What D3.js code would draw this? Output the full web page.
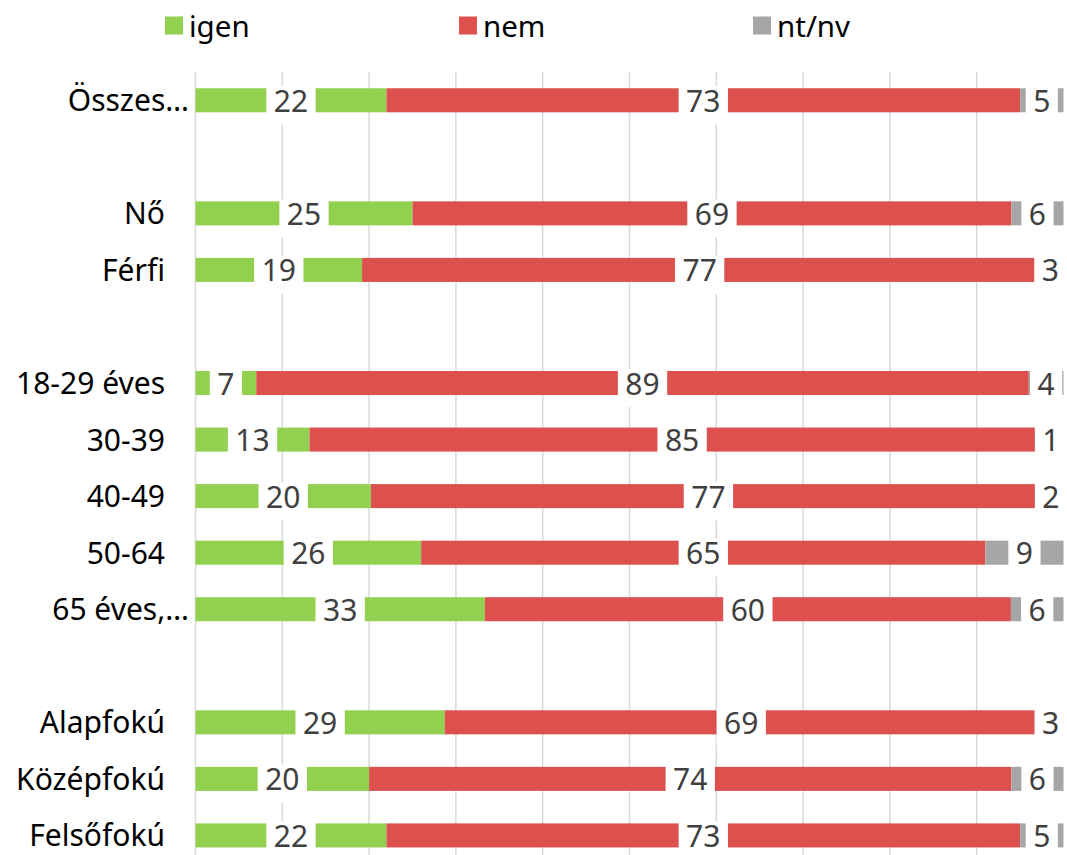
<!DOCTYPE html>
<html>
<head>
<meta charset="utf-8">
<script src="https://cdn.jsdelivr.net/npm/d3@7"></script>
<style>
  html, body { margin: 0; padding: 0; background: #fff; }
  svg { display: block; font-family: "Noto Sans", "Open Sans", sans-serif; }
</style>
</head>
<body>
<svg id="chart" width="1067" height="855"></svg>
<script>
// Row labels (empty strings are spacer rows between groups)
const categories = ["Összes…", "", "Nő", "Férfi", "", "18-29 éves", "30-39", "40-49", "50-64", "65 éves,…", "", "Alapfokú", "Középfokú", "Felsőfokú"];
const seriesNames = ["igen", "nem", "nt/nv"];
const igen = [22, null, 25, 19, null, 7, 13, 20, 26, 33, null, 29, 20, 22];
const nem  = [73, null, 69, 77, null, 89, 85, 77, 65, 60, null, 69, 74, 73];
const ntnv = [5,  null, 6,  3,  null, 4,  1,  2,  9,  6,  null, 3,  6,  5];
const colors = ["#92d050", "#dc504d", "#a6a6a6"];
const gridTicks = [0, 0.1, 0.2, 0.3, 0.4, 0.5, 0.6, 0.7, 0.8, 0.9];

const svg = d3.select("#chart");
const W = 1067;

const x = d3.scaleLinear().domain([0, 1]).range([195.5, 1063.5]);
const y = d3.scaleBand()
  .domain(d3.range(categories.length))
  .range([72, 72 + 56.55 * categories.length])
  .paddingInner(0.575)
  .paddingOuter(0.2875);

// Vertical gridlines
svg.append("g").selectAll("line")
  .data(gridTicks)
  .join("line")
  .attr("x1", d => x(d)).attr("x2", d => x(d))
  .attr("y1", 72).attr("y2", 870)
  .attr("stroke", "#d9d9d9")
  .attr("stroke-width", 1.5);

// Build stacked rows (normalised to each row's total)
const rows = categories.map((c, i) => {
  if (igen[i] == null) return null;
  const vals = [igen[i], nem[i], ntnv[i]];
  const total = d3.sum(vals);
  let acc = 0;
  return vals.map((v, k) => {
    const s = { row: i, k, v, x0: acc / total, x1: (acc + v) / total };
    acc += v;
    return s;
  });
}).filter(r => r);

const segs = rows.flat();

// Bars
svg.append("g").selectAll("rect")
  .data(segs)
  .join("rect")
  .attr("x", d => x(d.x0))
  .attr("width", d => x(d.x1) - x(d.x0))
  .attr("y", d => y(d.row))
  .attr("height", y.bandwidth())
  .attr("fill", d => colors[d.k]);

// Value labels on white boxes, kept inside the drawing area
const lg = svg.append("g");
segs.forEach(d => {
  let cx = (x(d.x0) + x(d.x1)) / 2;
  const cy = y(d.row) + y.bandwidth() / 2;
  const g = lg.append("g");
  const box = g.append("rect").attr("fill", "#fff");
  const t = g.append("text")
    .attr("y", cy + 11.5)
    .attr("text-anchor", "middle")
    .attr("font-size", 30)
    .attr("fill", "#404040")
    .text(d.v);
  const w = t.node().getComputedTextLength() + 15;
  cx = Math.min(cx, W - w / 2);
  t.attr("x", cx);
  box.attr("x", cx - w / 2).attr("width", w)
     .attr("y", cy - 14).attr("height", 38);
});

// Category labels
svg.append("g").selectAll("text")
  .data(categories.map((c, i) => ({ c, i })).filter(d => d.c))
  .join("text")
  .attr("x", d => d.c.endsWith("…") ? 189 : 165)
  .attr("y", d => y(d.i) + y.bandwidth() / 2 + 11)
  .attr("text-anchor", "end")
  .attr("font-size", 30)
  .attr("fill", "#000")
  .text(d => d.c);

// Legend
const legendX = [165, 459, 753];
const leg = svg.append("g").selectAll("g")
  .data(seriesNames)
  .join("g")
  .attr("transform", (d, i) => `translate(${legendX[i]},16.5)`);
leg.append("rect").attr("width", 18).attr("height", 18).attr("fill", (d, i) => colors[i]);
leg.append("text")
  .attr("x", 24).attr("y", 20)
  .attr("font-size", 29.5)
  .attr("fill", "#000")
  .text(d => d);
</script>
</body>
</html>
